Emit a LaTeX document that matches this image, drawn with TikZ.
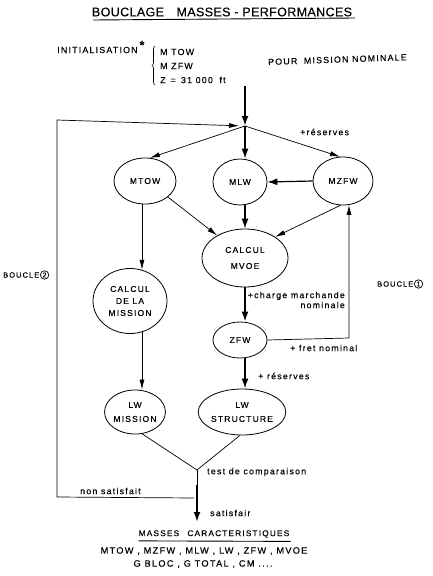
\documentclass[tikz,border=0pt]{standalone}
\usepackage{fontspec}
\setmainfont{Liberation Sans}[LetterSpace=14, FakeBold=0.2]
\newfontfamily\titlefont{Liberation Sans}[LetterSpace=3, FakeBold=0.2]
\usetikzlibrary{arrows.meta,shapes.geometric,decorations.pathreplacing}
\begin{document}
\begin{tikzpicture}[x=1pt,y=-1pt,
  txt/.style={font=\fontsize{8.5}{12}\selectfont, inner sep=0pt, align=center},
  bubble/.style={ellipse, draw, line width=0.8pt, inner sep=0pt, txt},
  wire/.style={line width=0.7pt},
  flow/.style={line width=0.7pt, -{Latex[length=10pt,width=5pt]}},
  heavy/.style={line width=2pt, -{Latex[length=10pt,width=7pt]}},
  lbl/.style={font=\fontsize{8.8}{10}\selectfont, inner sep=0pt, anchor=west},
  captxt/.style={font=\fontsize{8.8}{11}\selectfont, inner sep=0pt, anchor=west},
  loopword/.style={font=\fontsize{7.5}{9}\selectfont, inner sep=0pt, anchor=west},
  loopnum/.style={circle, draw, line width=0.7pt, inner sep=0.8pt, anchor=west, font=\fontsize{7}{7}\selectfont},
]
\fill[white] (0,0) rectangle (433,576);
\useasboundingbox (0,0) rectangle (433,576);

% title
\node[font=\titlefont\fontsize{12.5}{15}\selectfont, inner sep=0pt] (title) at (222,12) {BOUCLAGE\enspace\enspace MASSES - PERFORMANCES};
\draw[line width=0.9pt] (93,20) -- (355,18);

% initial values
\node[captxt] (init) at (57,50) {INITIALISATION};
\node[inner sep=0pt, font=\fontsize{12}{12}\bfseries\selectfont] (star) at (142,45) {*};
\draw[line width=0.6pt, decorate, decoration={brace, amplitude=3pt}] (155,85) -- (155,46);
\node[captxt] (i1) at (160,52) {M TOW};
\node[captxt] (i2) at (160,66) {M ZFW};
\node[captxt] (i3) at (160,80) {Z\, =\, 31 000\, \,ft};
\node[captxt, rotate=2] (nom) at (268,62) {POUR\, \,MISSION NOMINALE};

% mass nodes
\node[bubble, minimum width=62, minimum height=46] (mtow) at (145,181) {MTOW};
\node[bubble, minimum width=54, minimum height=46] (mlw) at (240,182) {MLW};
\node[bubble, minimum width=60, minimum height=48] (mzfw) at (343,181) {MZFW};
\node[bubble, minimum width=86, minimum height=58] (mvoe) at (245,258) {CALCUL\\[4pt]MVOE};
\node[bubble, minimum width=74, minimum height=65] (mission) at (130,301) {CALCUL\\DE LA\\MISSION};
\node[bubble, minimum width=54, minimum height=36] (zfw) at (240,340) {ZFW};
\node[bubble, minimum width=60, minimum height=44] (lwm) at (135,412) {LW\\[2pt]MISSION};
\node[bubble, minimum width=60, minimum height=46] (lws) at (242,412) {LW\\[2pt]STRUCTURE};

% entry and distribution
\coordinate (start) at (245,86);
\coordinate (J) at (245,126);
\draw[heavy] (start) -- (J);
\draw[flow] (J) -- (mtow.78);
\draw[heavy, line width=1.4pt] (J) -- (J |- mlw.north);
\draw[flow] (J) -- (mzfw.97);
\node[lbl] (res1) at (300,132) {+réserves};

\draw[heavy, line width=1.2pt] (mzfw.west) -- (mlw.east);
\draw[flow] (mtow.-35) -- (mvoe.141);
\draw[heavy, line width=1.3pt] (mvoe.north |- mlw.south) -- (mvoe.north);
\draw[flow] (mzfw.-96) -- (mvoe.35);
\draw[flow] (mission.69 |- mtow.south) -- (mission.69);

% MVOE -> ZFW -> LW structure
\draw[heavy, line width=1.6pt] (mvoe.south) -- (mvoe.south |- zfw.north);
\node[lbl, align=right, anchor=east] (charge) at (345,300) {+charge marchande\\nominale};
\draw[heavy, line width=1.8pt] (mvoe.south |- zfw.south) -- (mvoe.south |- lws.north);
\node[lbl] (res2) at (258,376) {+ réserves};

% loop 1
\coordinate (b1) at (349,338);
\draw[flow] (zfw.east) -- (b1) -- (b1 |- mzfw.-76);
\node[lbl] (fret) at (290,348) {+ fret nominal};
\node[loopword] (boucle1) at (377,284) {BOUCLE};
\node[loopnum] (n1) at ([xshift=0.5pt]boucle1.east) {1};

% mission -> LW mission
\draw[flow] (mission.-69) -- (mission.-69 |- lwm.north);

% comparison
\coordinate (T) at (197,470);
\coordinate (T2) at (197,485);
\coordinate (out) at (197,522);
\draw[wire] (lwm.-72) -- (T) -- (lws.-95);
\draw[wire] (T) -- (T2);
\draw[heavy, line width=2.2pt] (T2) -- (out);
\node[lbl] (test) at (207,472) {test de comparaison};
\node[lbl] (satis) at (210,513) {satisfair};
\node[lbl] (nonsat) at (80,491) {non satisfait};

% loop 2
\coordinate (L1) at (194,498);
\coordinate (L2) at (57,497);
\coordinate (L3) at (57,120);
\draw[flow, shorten >=6pt] (L1) -- (L2) -- (L3) -- (J);
\node[loopword] (boucle2) at (3,275) {BOUCLE};
\node[loopnum] (n2) at ([xshift=0.5pt]boucle2.east) {2};

% results
\node[font=\fontsize{8.3}{10}\selectfont, inner sep=0pt] (masses) at (214,534) {MASSES\quad CARACTERISTIQUES};
\draw[line width=0.9pt] (masses.south west) ++(0,3) -- ++(152,0.5);
\node[font=\fontsize{9.2}{10}\selectfont, inner sep=0pt] (list1) at (204,551) {MTOW , MZFW , MLW , LW , ZFW , MVOE};
\node[font=\fontsize{9.2}{10}\selectfont, inner sep=0pt] (list2) at (203,564) {G BLOC , G TOTAL , CM ....};
\end{tikzpicture}
\end{document}
